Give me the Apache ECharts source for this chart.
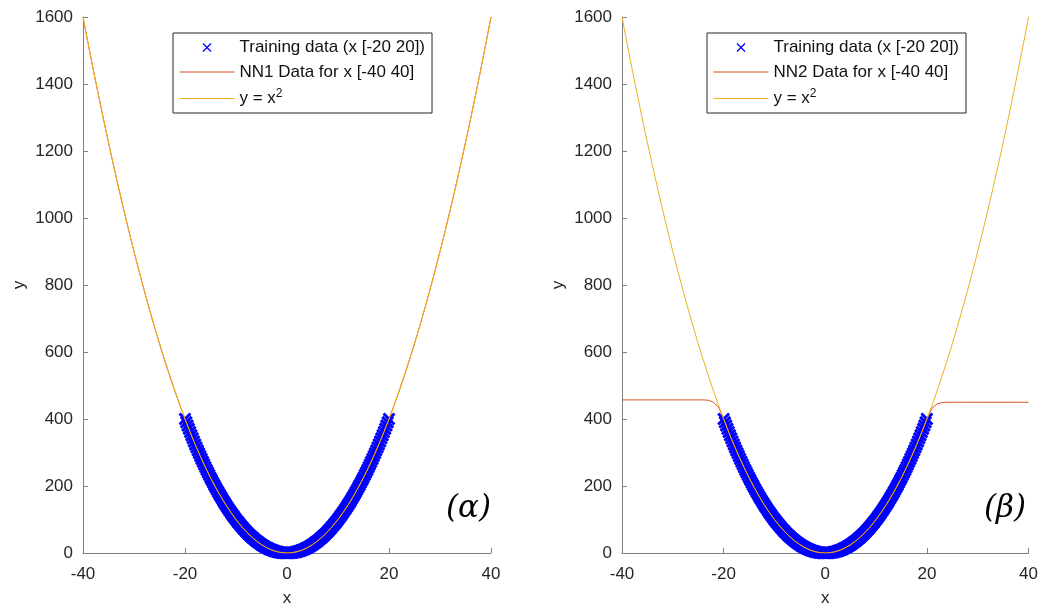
<!DOCTYPE html>
<html>
<head>
<meta charset="utf-8">
<script src="https://cdn.jsdelivr.net/npm/echarts@6/dist/echarts.min.js"></script>
<style>html,body{margin:0;padding:0;background:#fff;}#c{width:1041px;height:612px;}</style>
</head>
<body>
<div id="c"></div>
<script>
// ---- data ----
const xFull = [-40,-39,-38,-37,-36,-35,-34,-33,-32,-31,-30,-29,-28,-27,-26,-25,-24,-23,-22,-21,-20,-19,-18,-17,-16,-15,-14,-13,-12,-11,-10,-9,-8,-7,-6,-5,-4,-3,-2,-1,0,1,2,3,4,5,6,7,8,9,10,11,12,13,14,15,16,17,18,19,20,21,22,23,24,25,26,27,28,29,30,31,32,33,34,35,36,37,38,39,40];
const ySquare = [1600,1521,1444,1369,1296,1225,1156,1089,1024,961,900,841,784,729,676,625,576,529,484,441,400,361,324,289,256,225,196,169,144,121,100,81,64,49,36,25,16,9,4,1,0,1,4,9,16,25,36,49,64,81,100,121,144,169,196,225,256,289,324,361,400,441,484,529,576,625,676,729,784,841,900,961,1024,1089,1156,1225,1296,1369,1444,1521,1600];
const nn1Y = [1600,1521,1444,1369,1296,1225,1156,1089,1024,961,900,841,784,729,676,625,576,529,484,441,400,361,324,289,256,225,196,169,144,121,100,81,64,49,36,25,16,9,4,1,0,1,4,9,16,25,36,49,64,81,100,121,144,169,196,225,256,289,324,361,400,441,484,529,576,625,676,729,784,841,900,961,1024,1089,1156,1225,1296,1369,1444,1521,1600];
const nn2Y = [457,457,457,457,457,457,457,457,457,457,457,457,457,457,457,457,457,456,450,435,402,361,324,289,256,225,196,169,144,121,100,81,64,49,36,25,16,9,4,1,0,1,4,9,16,25,36,49,64,81,100,121,144,169,196,225,256,289,324,361,400,432,445,449,450,450,450,450,450,450,450,450,450,450,450,450,450,450,450,450,450];
const trainX = [-20,-19.75,-19.5,-19.25,-19,-18.75,-18.5,-18.25,-18,-17.75,-17.5,-17.25,-17,-16.75,-16.5,-16.25,-16,-15.75,-15.5,-15.25,-15,-14.75,-14.5,-14.25,-14,-13.75,-13.5,-13.25,-13,-12.75,-12.5,-12.25,-12,-11.75,-11.5,-11.25,-11,-10.75,-10.5,-10.25,-10,-9.75,-9.5,-9.25,-9,-8.75,-8.5,-8.25,-8,-7.75,-7.5,-7.25,-7,-6.75,-6.5,-6.25,-6,-5.75,-5.5,-5.25,-5,-4.75,-4.5,-4.25,-4,-3.75,-3.5,-3.25,-3,-2.75,-2.5,-2.25,-2,-1.75,-1.5,-1.25,-1,-0.75,-0.5,-0.25,0,0.25,0.5,0.75,1,1.25,1.5,1.75,2,2.25,2.5,2.75,3,3.25,3.5,3.75,4,4.25,4.5,4.75,5,5.25,5.5,5.75,6,6.25,6.5,6.75,7,7.25,7.5,7.75,8,8.25,8.5,8.75,9,9.25,9.5,9.75,10,10.25,10.5,10.75,11,11.25,11.5,11.75,12,12.25,12.5,12.75,13,13.25,13.5,13.75,14,14.25,14.5,14.75,15,15.25,15.5,15.75,16,16.25,16.5,16.75,17,17.25,17.5,17.75,18,18.25,18.5,18.75,19,19.25,19.5,19.75,20];
const trainY = [400,390.0625,380.25,370.5625,361,351.5625,342.25,333.0625,324,315.0625,306.25,297.5625,289,280.5625,272.25,264.0625,256,248.0625,240.25,232.5625,225,217.5625,210.25,203.0625,196,189.0625,182.25,175.5625,169,162.5625,156.25,150.0625,144,138.0625,132.25,126.5625,121,115.5625,110.25,105.0625,100,95.0625,90.25,85.5625,81,76.5625,72.25,68.0625,64,60.0625,56.25,52.5625,49,45.5625,42.25,39.0625,36,33.0625,30.25,27.5625,25,22.5625,20.25,18.0625,16,14.0625,12.25,10.5625,9,7.5625,6.25,5.0625,4,3.0625,2.25,1.5625,1,0.5625,0.25,0.0625,0,0.0625,0.25,0.5625,1,1.5625,2.25,3.0625,4,5.0625,6.25,7.5625,9,10.5625,12.25,14.0625,16,18.0625,20.25,22.5625,25,27.5625,30.25,33.0625,36,39.0625,42.25,45.5625,49,52.5625,56.25,60.0625,64,68.0625,72.25,76.5625,81,85.5625,90.25,95.0625,100,105.0625,110.25,115.5625,121,126.5625,132.25,138.0625,144,150.0625,156.25,162.5625,169,175.5625,182.25,189.0625,196,203.0625,210.25,217.5625,225,232.5625,240.25,248.0625,256,264.0625,272.25,280.5625,289,297.5625,306.25,315.0625,324,333.0625,342.25,351.5625,361,370.5625,380.25,390.0625,400];
const xTicks = {min: -40, max: 40, step: 20};
const yTicks = {min: 0, max: 1600, step: 200};
const nameTrain = 'Training data (x [-20 20])';
const nameNN1 = 'NN1 Data for x [-40 40]';
const nameNN2 = 'NN2 Data for x [-40 40]';
const nameSq = 'y = x^2';
const panelLabels = ['(α)', '(β)'];

// ---- chart ----
const zip = (xs, ys) => xs.map((x, i) => [x, ys[i]]);
const xPath = 'path://M0,1.6L1.6,0L5,3.4L8.4,0L10,1.6L6.6,5L10,8.4L8.4,10L5,6.6L1.6,10L0,8.4L3.4,5Z';
const xPathThin = 'path://M0,1L1,0L5,4L9,0L10,1L6,5L10,9L9,10L5,6L1,10L0,9L4,5Z';
const axisColor = '#808080';
const textColor = '#262626';
const font = 'Liberation Sans, Arial, sans-serif';

function xAxis(gi) {
  return {
    gridIndex: gi, type: 'value', min: xTicks.min, max: xTicks.max, interval: xTicks.step,
    name: 'x', nameLocation: 'middle', nameGap: 37,
    nameTextStyle: {color: textColor, fontSize: 17, fontFamily: font},
    axisLine: {show: true, onZero: false, lineStyle: {color: axisColor, width: 1}},
    axisTick: {show: true, inside: true, length: 5, lineStyle: {color: axisColor}},
    axisLabel: {color: textColor, fontSize: 17, fontFamily: font, margin: 13, formatter: v => String(v)},
    splitLine: {show: false}
  };
}
function yAxis(gi) {
  return {
    gridIndex: gi, type: 'value', min: yTicks.min, max: yTicks.max, interval: yTicks.step,
    name: 'y', nameLocation: 'middle', nameGap: 55, nameRotate: 90,
    nameTextStyle: {color: textColor, fontSize: 17, fontFamily: font},
    axisLine: {show: true, onZero: false, lineStyle: {color: axisColor, width: 1}},
    axisTick: {show: true, inside: true, length: 5, lineStyle: {color: axisColor}},
    axisLabel: {color: textColor, fontSize: 17, fontFamily: font, margin: 10, formatter: v => String(v)},
    splitLine: {show: false}
  };
}
function legend(left, nnName) {
  return {
    orient: 'vertical', left: left, top: 33,
    data: [{name: nameTrain, icon: xPathThin}, nnName, nameSq],
    itemWidth: 55, itemHeight: 9, itemGap: 7.5,
    padding: [6, 7, 6, 6],
    backgroundColor: '#fff', borderColor: '#262626', borderWidth: 1,
    selectedMode: false,
    lineStyle: {width: 1},
    textStyle: {color: '#111', fontSize: 17, fontFamily: font,
      rich: {b: {fontSize: 17, fontFamily: font, color: '#111'}, s: {fontSize: 12, fontFamily: font, color: '#111', verticalAlign: 'top', padding: [0,0,9,0]}}},
    formatter: function (n) { return n === nameSq ? '{b|y = x}{s|2}' : n; }
  };
}
function trainSeries(gi) {
  return {
    name: nameTrain, type: 'scatter', xAxisIndex: gi, yAxisIndex: gi,
    data: zip(trainX, trainY), symbol: xPath, symbolSize: 13,
    itemStyle: {color: '#0000ff', opacity: 1}, z: 2, silent: true
  };
}
function lineSeries(gi, name, ys, color, z) {
  return {
    name: name, type: 'line', xAxisIndex: gi, yAxisIndex: gi,
    data: zip(xFull, ys), symbol: 'circle', showSymbol: false,
    lineStyle: {color: color, width: 1}, itemStyle: {color: color, opacity: 0}, z: z, silent: true
  };
}

const chart = echarts.init(document.getElementById('c'));
chart.setOption({
  animation: false,
  backgroundColor: '#fff',
  grid: [
    {left: 83, top: 17, width: 408, height: 537},
    {left: 622, top: 17, width: 408, height: 537}
  ],
  xAxis: [xAxis(0), xAxis(1)],
  yAxis: [yAxis(0), yAxis(1)],
  legend: [legend(173, nameNN1), legend(707, nameNN2)],
  series: [
    trainSeries(0),
    lineSeries(0, nameNN1, nn1Y, '#D95319', 3),
    lineSeries(0, nameSq, ySquare, '#EDB120', 4),
    trainSeries(1),
    lineSeries(1, nameNN2, nn2Y, '#D95319', 3),
    lineSeries(1, nameSq, ySquare, '#EDB120', 4)
  ],
  graphic: [
    {type: 'text', left: 446, top: 493, style: {text: panelLabels[0], fill: '#000', font: 'italic 31px "DejaVu Serif", serif'}},
    {type: 'text', left: 984, top: 493, style: {text: panelLabels[1], fill: '#000', font: 'italic 31px "DejaVu Serif", serif'}}
  ]
});
</script>
</body>
</html>
